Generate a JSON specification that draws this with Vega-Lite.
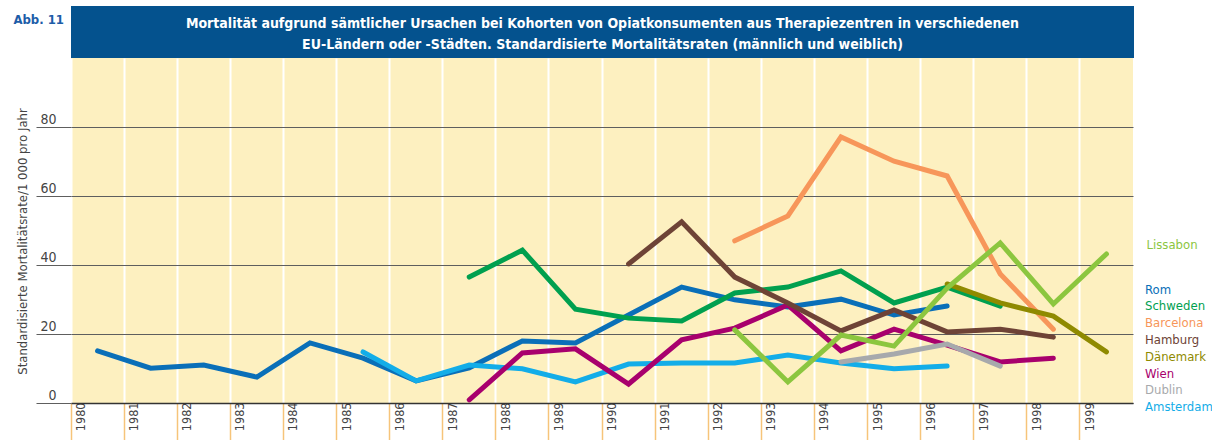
{
  "$schema": "https://vega.github.io/schema/vega-lite/v6.json",
  "padding": {"left": 13, "top": 6, "right": 0, "bottom": 0},
  "background": "#ffffff",
  "spacing": 0,
  "bounds": "flush",
  "title": {
    "text": "Abb. 11",
    "anchor": "start",
    "frame": "bounds",
    "orient": "top",
    "baseline": "alphabetic",
    "offset": 0,
    "dy": 31,
    "dx": -3,
    "color": "#1d5da8",
    "fontSize": 13,
    "fontWeight": "bold",
    "font": "DejaVu Sans Condensed, Roboto, sans-serif"
  },
  "config": {
    "font": "DejaVu Sans Condensed, Roboto, sans-serif",
    "view": {"stroke": null}
  },
  "resolve": {"legend": {"color": "independent"}},
  "datasets": {
    "rates": [
      {"city": "Rom", "year": 1980, "value": 15.1},
      {"city": "Rom", "year": 1981, "value": 10.1},
      {"city": "Rom", "year": 1982, "value": 11.0},
      {"city": "Rom", "year": 1983, "value": 7.5},
      {"city": "Rom", "year": 1984, "value": 17.4},
      {"city": "Rom", "year": 1985, "value": 13.0},
      {"city": "Rom", "year": 1986, "value": 6.4},
      {"city": "Rom", "year": 1987, "value": 10.2},
      {"city": "Rom", "year": 1988, "value": 18.0},
      {"city": "Rom", "year": 1989, "value": 17.4},
      {"city": "Rom", "year": 1990, "value": 25.5},
      {"city": "Rom", "year": 1991, "value": 33.6},
      {"city": "Rom", "year": 1992, "value": 29.9},
      {"city": "Rom", "year": 1993, "value": 27.8},
      {"city": "Rom", "year": 1994, "value": 30.1},
      {"city": "Rom", "year": 1995, "value": 25.5},
      {"city": "Rom", "year": 1996, "value": 28.1},
      {"city": "Schweden", "year": 1987, "value": 36.5},
      {"city": "Schweden", "year": 1988, "value": 44.3},
      {"city": "Schweden", "year": 1989, "value": 27.2},
      {"city": "Schweden", "year": 1990, "value": 24.6},
      {"city": "Schweden", "year": 1991, "value": 23.8},
      {"city": "Schweden", "year": 1992, "value": 31.9},
      {"city": "Schweden", "year": 1993, "value": 33.6},
      {"city": "Schweden", "year": 1994, "value": 38.3},
      {"city": "Schweden", "year": 1995, "value": 29.0},
      {"city": "Schweden", "year": 1996, "value": 33.6},
      {"city": "Schweden", "year": 1997, "value": 28.1},
      {"city": "Amsterdam", "year": 1985, "value": 14.8},
      {"city": "Amsterdam", "year": 1986, "value": 6.4},
      {"city": "Amsterdam", "year": 1987, "value": 11.0},
      {"city": "Amsterdam", "year": 1988, "value": 9.9},
      {"city": "Amsterdam", "year": 1989, "value": 6.1},
      {"city": "Amsterdam", "year": 1990, "value": 11.3},
      {"city": "Amsterdam", "year": 1991, "value": 11.6},
      {"city": "Amsterdam", "year": 1992, "value": 11.6},
      {"city": "Amsterdam", "year": 1993, "value": 13.9},
      {"city": "Amsterdam", "year": 1994, "value": 11.6},
      {"city": "Amsterdam", "year": 1995, "value": 9.9},
      {"city": "Amsterdam", "year": 1996, "value": 10.7},
      {"city": "Wien", "year": 1987, "value": 0.9},
      {"city": "Wien", "year": 1988, "value": 14.5},
      {"city": "Wien", "year": 1989, "value": 15.7},
      {"city": "Wien", "year": 1990, "value": 5.5},
      {"city": "Wien", "year": 1991, "value": 18.3},
      {"city": "Wien", "year": 1992, "value": 21.7},
      {"city": "Wien", "year": 1993, "value": 28.4},
      {"city": "Wien", "year": 1994, "value": 15.1},
      {"city": "Wien", "year": 1995, "value": 21.4},
      {"city": "Wien", "year": 1996, "value": 16.8},
      {"city": "Wien", "year": 1997, "value": 11.9},
      {"city": "Wien", "year": 1998, "value": 13.0},
      {"city": "Hamburg", "year": 1990, "value": 40.3},
      {"city": "Hamburg", "year": 1991, "value": 52.5},
      {"city": "Hamburg", "year": 1992, "value": 36.5},
      {"city": "Hamburg", "year": 1993, "value": 29.0},
      {"city": "Hamburg", "year": 1994, "value": 20.9},
      {"city": "Hamburg", "year": 1995, "value": 27.0},
      {"city": "Hamburg", "year": 1996, "value": 20.6},
      {"city": "Hamburg", "year": 1997, "value": 21.4},
      {"city": "Hamburg", "year": 1998, "value": 19.1},
      {"city": "Barcelona", "year": 1992, "value": 47.0},
      {"city": "Barcelona", "year": 1993, "value": 54.2},
      {"city": "Barcelona", "year": 1994, "value": 77.1},
      {"city": "Barcelona", "year": 1995, "value": 70.1},
      {"city": "Barcelona", "year": 1996, "value": 65.8},
      {"city": "Barcelona", "year": 1997, "value": 37.4},
      {"city": "Barcelona", "year": 1998, "value": 21.4},
      {"city": "Dublin", "year": 1994, "value": 11.9},
      {"city": "Dublin", "year": 1995, "value": 14.2},
      {"city": "Dublin", "year": 1996, "value": 17.1},
      {"city": "Dublin", "year": 1997, "value": 10.7},
      {"city": "Dänemark", "year": 1996, "value": 34.5},
      {"city": "Dänemark", "year": 1997, "value": 29.0},
      {"city": "Dänemark", "year": 1998, "value": 25.2},
      {"city": "Dänemark", "year": 1999, "value": 14.8},
      {"city": "Lissabon", "year": 1992, "value": 21.2},
      {"city": "Lissabon", "year": 1993, "value": 6.1},
      {"city": "Lissabon", "year": 1994, "value": 19.7},
      {"city": "Lissabon", "year": 1995, "value": 16.5},
      {"city": "Lissabon", "year": 1996, "value": 33.3},
      {"city": "Lissabon", "year": 1997, "value": 46.4},
      {"city": "Lissabon", "year": 1998, "value": 28.7},
      {"city": "Lissabon", "year": 1999, "value": 43.2}
    ]
  },
  "vconcat": [
    {
      "width": 1063,
      "height": 52,
      "view": {"fill": "#04528e", "stroke": null},
      "data": {"values": [{"t": "Mortalität aufgrund sämtlicher Ursachen bei Kohorten von Opiatkonsumenten aus Therapiezentren in verschiedenen\nEU-Ländern oder -Städten. Standardisierte Mortalitätsraten (männlich und weiblich)"}]},
      "mark": {
        "type": "text",
        "color": "#ffffff",
        "fontSize": 14,
        "fontWeight": "bold",
        "lineBreak": "\n",
        "lineHeight": 21,
        "align": "center",
        "baseline": "middle",
        "dy": -8
      },
      "encoding": {"text": {"field": "t", "type": "nominal"}}
    },
    {
      "width": 1062,
      "height": 345,
      "view": {"fill": "#fdf0c0", "stroke": null},
      "data": {"name": "rates"},
      "encoding": {
        "x": {
          "field": "year",
          "type": "ordinal",
          "bandPosition": 0.5,
          "scale": {
            "type": "band",
            "domain": [1980, 1981, 1982, 1983, 1984, 1985, 1986, 1987, 1988, 1989, 1990, 1991, 1992, 1993, 1994, 1995, 1996, 1997, 1998, 1999],
            "paddingInner": 0,
            "paddingOuter": 0
          },
          "axis": {
            "title": null,
            "bandPosition": 0,
            "grid": true,
            "gridColor": "#ffffff",
            "gridWidth": 2,
            "gridOpacity": 1,
            "domain": true,
            "domainColor": "#333333",
            "domainWidth": 1.5,
            "ticks": true,
            "tickColor": "#f6c47a",
            "tickSize": 37,
            "tickWidth": 1.5,
            "labelAngle": 270,
            "labelAlign": "right",
            "labelBaseline": "top",
            "labelPadding": -38,
            "labelOffset": -22.5,
            "labelFontSize": 12.5,
            "labelColor": "#444444",
            "labelOverlap": false
          }
        },
        "y": {
          "field": "value",
          "type": "quantitative",
          "scale": {"domain": [0, 100], "nice": false, "zero": true},
          "axis": {
            "title": "Standardisierte Mortalitätsrate/1 000 pro Jahr",
            "values": [0, 20, 40, 60, 80],
            "grid": true,
            "gridColor": "#5e5e5e",
            "gridWidth": 1.2,
            "gridOpacity": 1,
            "domain": false,
            "ticks": true,
            "tickColor": "#5e5e5e",
            "tickWidth": 1.2,
            "tickSize": 35,
            "labelAlign": "right",
            "labelBaseline": "bottom",
            "labelPadding": -20,
            "labelOffset": -1,
            "labelFontSize": 14,
            "labelColor": "#444444",
            "titleFontSize": 13,
            "titleFontWeight": "normal",
            "titleColor": "#444444",
            "titlePadding": 6,
            "titleY": 183
          }
        },
        "color": {
          "field": "city",
          "type": "nominal",
          "scale": {
            "domain": ["Lissabon", "Rom", "Schweden", "Barcelona", "Hamburg", "Dänemark", "Wien", "Dublin", "Amsterdam"],
            "range": ["#8cc63f", "#0a6fb8", "#00a04f", "#f7965a", "#6e4336", "#8f8a00", "#a8006d", "#a7a9ac", "#13ade8"]
          }
        }
      },
      "layer": [
        {
          "mark": {"type": "line", "strokeWidth": 5, "strokeCap": "round", "strokeJoin": "miter"},
          "encoding": {
            "color": {
              "field": "city",
              "type": "nominal",
              "legend": {
                "orient": "none",
                "legendX": 1061,
                "legendY": 225,
                "title": null,
                "values": ["Rom", "Schweden", "Barcelona", "Hamburg", "Dänemark", "Wien", "Dublin", "Amsterdam"],
                "symbolSize": 0,
                "symbolOpacity": 0,
                "symbolStrokeWidth": 0,
                "labelOffset": 0,
                "labelFontSize": 13,
                "rowPadding": 2.8,
                "encode": {"labels": {"update": {"fill": {"scale": "color", "field": "value"}}}}
              }
            }
          }
        },
        {
          "transform": [{"filter": "datum.city === 'Lissabon' && datum.year === 1999"}],
          "mark": {"type": "text", "align": "left", "baseline": "middle", "dx": 40, "dy": -9, "fontSize": 13},
          "encoding": {
            "text": {"field": "city", "type": "nominal"},
            "color": {"field": "city", "type": "nominal", "legend": null}
          }
        }
      ]
    }
  ]
}
